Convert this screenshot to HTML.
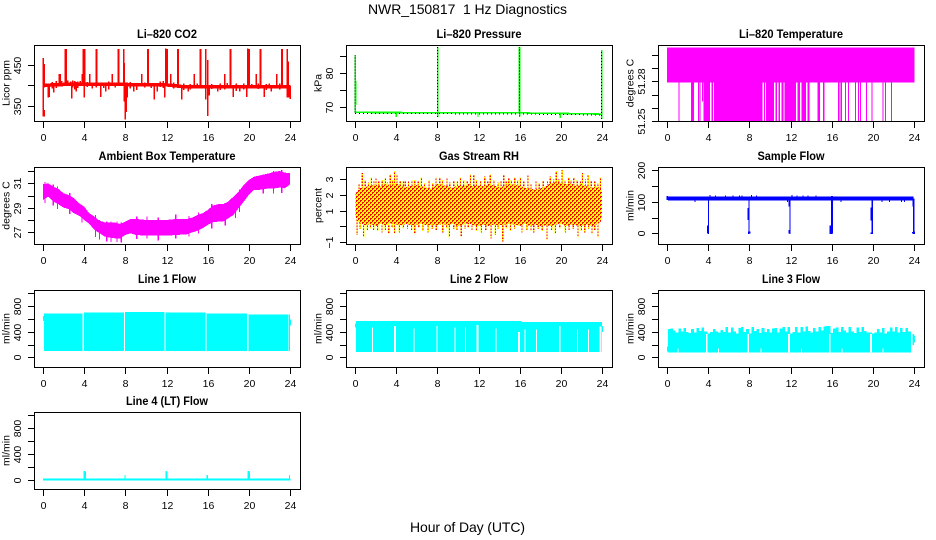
<!DOCTYPE html>
<html lang="en">
<head>
<meta charset="utf-8">
<title>NWR_150817 1 Hz Diagnostics</title>
<style>
html,body{margin:0;padding:0;background:#fff;}
body{width:936px;height:540px;overflow:hidden;}
svg{display:block;font-family:"Liberation Sans",Arial,sans-serif;}
</style>
</head>
<body>
<svg id="chart" width="936" height="540" viewBox="0 0 936 540" xmlns="http://www.w3.org/2000/svg">
<defs>
<pattern id="rhPattern" width="4" height="4" patternUnits="userSpaceOnUse">
<rect width="4" height="4" fill="#ffff00"/>
<rect x="0" y="0" width="2" height="2" fill="#ff0000"/>
<rect x="2" y="2" width="2" height="2" fill="#ff0000"/>
<rect x="1" y="1" width="1" height="1" fill="#ffff00"/>
<rect x="3" y="3" width="1" height="1" fill="#ffff00"/>
</pattern>
</defs>
<rect width="936" height="540" fill="#fff"/>
<text x="467.5" y="14" font-size="14" text-anchor="middle" textLength="199" xml:space="preserve" style="white-space:pre">NWR_150817  1 Hz Diagnostics</text>
<text x="467.5" y="532" font-size="14" text-anchor="middle" textLength="115">Hour of Day (UTC)</text>
</svg>
<script>
// ---- shared axis values
const hourTicks = [0, 4, 8, 12, 16, 20, 24];

// ---- Li-820 CO2
const co2BaseHours = [0, 2, 8, 12, 13.5, 16, 20, 24];
const co2BaseValues = [400, 402, 402, 401, 397, 396, 397, 397];
const co2SpikeHours = [0.02, 0.1, 0.1, 0.5, 0.6, 1.05, 1.6, 1.68, 1.8, 2.15, 2.25, 2.4, 2.7, 2.79, 3.25, 3.6, 3.8, 3.92, 4.0, 4.08, 4.55, 5.15, 5.2, 5.6, 6.1, 6.75, 7.29, 7.34, 7.84, 7.9, 7.97, 8.07, 8.2, 8.8, 9.6, 10.17, 10.22, 10.8, 11.1, 11.85, 11.92, 12.08, 12.4, 13.09, 13.14, 13.5, 14.1, 14.7, 15.26, 15.31, 15.81, 16.03, 16.15, 17, 17.65, 18.17, 18.22, 18.5, 19.1, 19.8, 19.89, 20.05, 20.7, 21.09, 21.14, 21.5, 22.2, 22.7, 23.19, 23.24, 23.74, 23.82, 23.9, 24];
const co2SpikeLow = [324, 324, 395, 370, 372, 383, 400, 400, 400, 400, 400, 400, 400, 368, 385, 400, 400, 400, 370, 402, 400, 395, 400, 372, 385, 400, 400, 400, 400, 360, 317, 335, 370, 385, 400, 400, 400, 365, 385, 370, 400, 400, 400, 400, 400, 365, 385, 400, 400, 400, 365, 325, 375, 385, 390, 400, 400, 372, 385, 372, 400, 400, 400, 400, 400, 372, 385, 400, 400, 400, 370, 400, 370, 366];
const co2SpikeHigh = [466, 340, 452, 400, 400, 400, 428, 428, 410, 488, 488, 412, 409, 400, 408, 410, 427, 488, 400, 488, 428, 488, 488, 402, 405, 428, 488, 488, 488, 455, 400, 400, 400, 400, 428, 488, 488, 400, 400, 400, 490, 488, 428, 488, 488, 400, 400, 428, 488, 488, 488, 462, 400, 400, 428, 488, 488, 395, 400, 400, 490, 488, 428, 488, 488, 396, 400, 428, 488, 488, 488, 458, 400, 400];
const co2MinorHours = [0.9, 1.3, 2.9, 3.1, 3.4, 4.3, 4.8, 5.9, 6.4, 7.0, 8.5, 9.1, 9.9, 10.5, 11.4, 11.7, 12.7, 13.7, 14.3, 15.0, 16.4, 17.2, 17.9, 18.8, 19.5, 20.3, 20.9, 21.7, 22.0, 23.0];
const co2MinorLow = [392, 394, 395, 390, 393, 396, 392, 394, 390, 395, 392, 388, 395, 393, 396, 394, 392, 388, 390, 393, 391, 388, 392, 386, 390, 393, 391, 388, 392, 390];
const co2MinorHigh = [408, 410, 412, 411, 409, 408, 407, 406, 409, 406, 408, 405, 407, 406, 409, 410, 407, 404, 403, 404, 403, 404, 406, 404, 405, 403, 404, 403, 404, 405];
const co2TickValues = [350, 400, 450];
const co2TickLabels = ['350', '', '450'];

// ---- Li-820 Pressure
const pressBaseHours = [0, 5, 10, 16, 18.2, 20, 24];
const pressBaseValues = [68.5, 68.45, 68.4, 68.4, 68.2, 68.2, 68.0];
const pressSpikeHours = [0.02, 8.03, 16, 23.97];
const pressSpikeLow = [68.5, 67.1, 67.3, 66.5];
const pressSpikeHigh = [85.4, 87.7, 87.7, 86.9];
const pressThickHours = [0.06, 16];
const pressThickLow = [70.7, 68.5];
const pressThickHigh = [77.7, 87.7];
const pressDipHours = [4.02, 11.95, 19.95];
const pressDipLow = [67.1, 67.1, 66.8];
const pressTickValues = [70, 75, 80, 85];
const pressTickLabels = ['70', '', '80', ''];

// ---- Li-820 Temperature
const tempBandStart = [0];
const tempBandEnd = [24.06];
const tempBandLow = [51.2792];
const tempBandHigh = [51.3055];
const tempDropStart = [1.10, 2.33, 3.01, 3.17, 3.53, 4.31, 4.57, 9.43, 9.62, 10.53, 10.82, 11.11, 11.40, 12.67, 13.05, 13.64, 14.61, 15.16, 16.62, 16.88, 17.30, 17.59, 18.27, 18.56, 18.76, 19.34, 19.89, 20.93, 21.19, 21.77];
const tempDropEnd = [1.17, 2.62, 3.11, 3.21, 4.18, 4.47, 9.30, 9.52, 10.40, 10.69, 10.98, 11.31, 12.54, 12.93, 13.51, 13.83, 14.87, 15.32, 16.75, 17.01, 17.36, 17.65, 18.37, 18.66, 18.82, 19.44, 19.99, 21.06, 21.28, 21.83];
const tempPartialHours = [3.43];
const tempPartialLow = [51.2650];
const tempFloor = [51.2502];
const tempTickValues = [51.25, 51.26, 51.27, 51.28, 51.29, 51.30];
const tempTickLabels = ['51.25', '', '', '51.28', '', ''];

// ---- Ambient Box Temperature
const ambHours = [0, .5, 1, 1.5, 2, 2.5, 3, 3.5, 4, 4.5, 5, 5.5, 6, 6.5, 7, 7.5, 8, 8.5, 9, 10, 11, 12, 13, 14, 14.5, 15, 15.5, 16, 16.5, 17, 17.5, 18, 18.5, 19, 19.5, 20, 20.5, 21, 22, 22.5, 23, 23.5, 24];
const ambHigh = [30.92, 31.0, 30.73, 30.54, 30.18, 30.05, 29.78, 29.37, 29.10, 28.55, 28.28, 27.93, 27.82, 27.79, 27.79, 27.68, 27.87, 28.09, 28.09, 28.01, 28.01, 28.01, 28.09, 28.09, 28.20, 28.41, 28.55, 28.82, 29.18, 29.29, 29.29, 29.5, 29.91, 30.32, 30.86, 31.27, 31.54, 31.63, 31.82, 31.95, 32.0, 31.87, 31.82];
const ambLow = [29.64, 29.91, 29.50, 29.29, 29.01, 28.90, 28.55, 28.36, 28.01, 27.68, 27.19, 26.92, 26.65, 26.56, 26.51, 26.51, 26.78, 26.92, 26.78, 26.73, 26.73, 26.73, 26.78, 26.84, 27.0, 27.11, 27.33, 27.6, 27.82, 27.87, 27.87, 28.14, 28.41, 28.96, 29.5, 30.05, 30.46, 30.46, 30.59, 30.59, 30.65, 30.59, 30.92];
const ambWhiskerHours = [0.2, 1.0, 1.4, 2.6, 3.8, 5.1, 5.5, 6.2, 6.6, 7.2, 7.6, 9.1, 10.1, 11.2, 12.9, 14.2, 15.1, 16.4, 17.7, 18.7, 19.1, 21.4, 22.4, 23.2];
const ambWhiskerLow = [29.4, 29.2, 28.9, 28.5, 27.8, 26.6, 26.4, 26.25, 26.2, 26.2, 26.15, 26.45, 26.5, 26.35, 26.5, 26.65, 26.9, 27.3, 27.55, 28.15, 28.65, 30.15, 30.15, 30.2];
const ambWhiskerHigh = [31.1, 30.9, 30.75, 30.2, 29.2, 28.4, 28.0, 27.9, 27.9, 27.9, 27.8, 28.3, 28.3, 28.2, 28.45, 28.35, 28.6, 29.3, 29.4, 30.0, 30.5, 31.7, 32.0, 32.1];
const ambTickValues = [27, 28, 29, 30, 31, 32];
const ambTickLabels = ['27', '', '29', '', '31', ''];

// ---- Gas Stream RH
const rhHours = [0.05, 0.3, 0.5, 1, 1.5, 2, 2.5, 3, 3.5, 4, 4.5, 5, 5.5, 6, 6.5, 7, 7.5, 8, 8.5, 9, 9.5, 10, 10.5, 11, 11.5, 12, 12.5, 13, 13.5, 14, 14.5, 15, 15.5, 16, 16.5, 17, 17.5, 18, 18.5, 19, 19.5, 20, 20.5, 21, 21.5, 22, 22.5, 23, 23.5, 23.9, 24.02];
const rhTop = [2.1, 2.3, 2.45, 2.5, 2.6, 2.65, 2.55, 2.7, 2.6, 2.75, 2.55, 2.5, 2.6, 2.65, 2.55, 2.45, 2.4, 2.7, 2.65, 2.55, 2.45, 2.6, 2.55, 2.7, 2.55, 2.6, 2.55, 2.7, 2.6, 2.5, 2.55, 2.7, 2.65, 2.6, 2.45, 2.4, 2.35, 2.4, 2.55, 2.75, 2.8, 2.75, 2.7, 2.75, 2.55, 2.7, 2.55, 2.45, 2.55, 2.4, 2.1];
const rhBottom = [0.6, 0.3, 0.2, 0.05, 0.15, 0.0, 0.15, 0.05, 0.2, 0.1, 0.05, 0.15, 0.05, 0.1, 0.15, 0.05, 0.1, 0.05, 0.15, 0.05, 0.15, 0.0, 0.1, 0.2, 0.05, 0.0, 0.1, 0.0, 0.1, 0.05, 0.1, 0.15, 0.1, 0.0, 0.15, 0.0, 0.1, 0.0, 0.05, 0.0, 0.1, 0.15, 0.0, 0.1, 0.05, 0.0, 0.1, 0.0, 0.1, 0.3, 0.8];
const rhUpHours = [0.7, 1.59, 2.04, 2.95, 3.43, 3.85, 4.08, 4.89, 5.54, 6.45, 7.87, 8.23, 8.94, 10.24, 11.21, 11.53, 12.6, 13.15, 14.45, 14.93, 15.52, 16.07, 16.8, 17.59, 18.98, 19.56, 20.12, 20.76, 21.25, 22.1, 22.65, 23.84, 0.4, 1.0, 1.3, 1.85, 2.3, 2.65, 3.15, 3.65, 4.4, 4.7, 5.2, 5.8, 6.15, 6.75, 7.2, 7.55, 8.5, 9.2, 9.6, 9.95, 10.55, 10.9, 11.8, 12.2, 12.9, 13.5, 13.9, 14.2, 14.7, 15.2, 15.8, 16.4, 17.1, 17.9, 18.3, 18.7, 19.3, 19.8, 20.4, 21.0, 21.6, 21.9, 22.4, 22.95, 23.3, 23.6];
const rhUpValues = [3.39, 3.13, 3.06, 3.06, 3.32, 3.53, 3.32, 2.85, 2.96, 3.11, 3.13, 3.11, 3.06, 3.11, 3.32, 3.28, 3.17, 3.32, 3.28, 3.06, 3.11, 3.11, 3.24, 2.85, 3.17, 3.53, 3.6, 3.13, 3.13, 3.39, 3.28, 3.13, 2.7, 2.95, 2.8, 2.9, 2.85, 2.95, 2.8, 2.95, 2.9, 2.85, 2.85, 2.95, 2.85, 2.75, 2.95, 2.75, 2.95, 2.8, 2.9, 2.85, 2.95, 2.85, 2.95, 2.9, 2.85, 2.95, 2.8, 2.9, 2.85, 2.95, 2.95, 2.85, 2.7, 2.75, 2.9, 2.85, 3.0, 3.0, 2.95, 2.95, 2.95, 2.85, 3.0, 2.9, 2.85, 2.75];
const rhDownHours = [0.2, 0.84, 1.81, 2.62, 3.27, 3.85, 4.31, 5.8, 7.1, 8.52, 9.17, 10.33, 11.37, 12.28, 13.22, 13.64, 14.35, 16.23, 17.36, 18.66, 19.47, 20.44, 21.67, 22.32, 23.03, 23.61, 0.5, 1.2, 1.5, 2.2, 2.95, 3.6, 4.7, 5.1, 5.5, 6.2, 6.6, 7.5, 7.9, 8.9, 9.6, 9.9, 10.7, 11.0, 11.8, 12.7, 13.9, 14.7, 15.1, 15.5, 16.7, 17.1, 17.8, 18.2, 19.1, 19.9, 20.8, 21.2, 22.0, 22.7, 23.3];
const rhDownValues = [-0.57, -0.74, -0.25, -0.40, -0.47, -0.47, -0.40, -0.47, -0.40, -0.40, -0.74, -0.68, -0.25, -0.40, -0.79, -0.57, -1.0, -0.40, -0.40, -0.89, -0.47, -0.40, -0.74, -0.40, -0.5, -0.74, -0.2, -0.25, -0.15, -0.3, -0.25, -0.1, -0.15, -0.2, -0.25, -0.1, -0.3, -0.2, -0.25, -0.15, -0.2, -0.25, -0.2, -0.1, -0.3, -0.25, -0.2, -0.15, -0.3, -0.2, -0.25, -0.3, -0.2, -0.3, -0.25, -0.15, -0.25, -0.2, -0.3, -0.2, -0.25];
const rhTickValues = [-1, 0, 1, 2, 3];
const rhTickLabels = ['\u22121', '', '1', '2', '3'];

// ---- Sample Flow
const flowBandStart = [0.1];
const flowBandEnd = [23.95];
const flowBandLow = [104];
const flowBandHigh = [117];
const flowDropHours = [4.02, 7.97, 11.95, 16.0, 19.95, 23.97];
const flowDropLow = [-3, -3, -3, -3, -3, -3];
const flowDropHigh = [110, 110, 110, 110, 110, 110];
const flowThickHours = [0.03, 3.98, 7.9, 7.95, 8.02, 11.88, 11.9, 15.9, 16.03, 19.85, 19.88, 23.92, 23.9, 24.02];
const flowThickLow = [106, 0, 42, -2, -1, 0, 85, -2, 0, 40, -2, 85, 0, -2];
const flowThickHigh = [119, 25, 80, 5, 5, 10, 106, 25, 118, 82, 3, 110, 4, 6];
const flowSpikeHours = [2.7, 4.2, 4.7, 5.7, 6.4, 7.05, 7.3, 8.2, 8.7, 11.7, 12.15, 12.65, 13.2, 13.7, 14.5, 16.9, 20.9, 21.6, 22.8, 23.1];
const flowSpikeLow = [99, 106, 106, 106, 106, 106, 106, 106, 106, 99, 106, 106, 106, 106, 106, 99, 99, 99, 99, 99];
const flowSpikeHigh = [106, 121, 120, 120, 120, 120, 120, 121, 120, 106, 121, 120, 120, 120, 120, 106, 106, 106, 106, 106];
const flowTickValues = [0, 50, 100, 150, 200];
const flowTickLabels = ['0', '', '100', '', '200'];

// ---- Line flows
const lineTickValues = [0, 200, 400, 600, 800, 1000];
const lineTickLabels = ['0', '', '400', '', '800', ''];

const line1Start = [0.1, 3.98, 7.97, 11.92, 15.9, 19.95, 23.87];
const line1End = [3.82, 7.87, 11.82, 15.81, 19.83, 23.8, 23.98];
const line1Top = [687, 698, 708, 703, 682, 672, 672];
const line1Bottom = [99, 99, 99, 99, 99, 99, 99];
const line1EdgeStart = [0, 23.98];
const line1EdgeEnd = [0.1, 24.1];
const line1EdgeLow = [568, 495];
const line1EdgeHigh = [646, 594];

const line2Start = [0.1, 16.2];
const line2End = [16.2, 23.98];
const line2Top = [568, 552];
const line2Bottom = [83, 83];
const line2GapStart = [1.65, 3.79, 5.67, 7.90, 9.65, 10.69, 11.82, 13.64, 15.84, 16.49, 17.59, 19.83, 21.57, 22.64, 23.78];
const line2GapEnd = [1.75, 3.98, 5.73, 8.03, 9.72, 10.79, 12.02, 13.70, 16.04, 16.59, 17.69, 19.99, 21.67, 22.74, 23.94];
const line2GapTop = [469, 490, 453, 490, 469, 469, 505, 453, 396, 437, 437, 490, 437, 437, 479];
const line2EdgeStart = [0, 23.94];
const line2EdgeEnd = [0.1, 24.1];
const line2EdgeLow = [463, 396];
const line2EdgeHigh = [531, 490];

const line3TopHours = [0.1, 0.35, 0.6, 0.85, 1.1, 1.35, 1.6, 1.85, 2.1, 2.35, 2.6, 2.85, 3.1, 3.35, 3.6, 3.95, 4.2, 4.45, 4.7, 4.95, 5.2, 5.45, 5.7, 5.95, 6.2, 6.45, 6.7, 6.95, 7.2, 7.45, 7.7, 7.97, 8.2, 8.45, 8.7, 8.95, 9.2, 9.45, 9.7, 9.95, 10.2, 10.45, 10.7, 10.95, 11.2, 11.45, 11.7, 11.95, 12.2, 12.45, 12.7, 12.95, 13.2, 13.45, 13.7, 13.95, 14.2, 14.45, 14.7, 14.95, 15.2, 15.45, 15.9, 16.15, 16.4, 16.65, 16.9, 17.15, 17.4, 17.65, 17.9, 18.15, 18.4, 18.65, 18.9, 19.15, 19.4, 19.92, 20.15, 20.4, 20.65, 20.9, 21.15, 21.4, 21.65, 21.9, 22.15, 22.4, 22.65, 22.9, 23.15, 23.4, 23.71];
const line3TopValues = [440, 452, 420, 385, 452, 405, 458, 395, 380, 440, 385, 458, 410, 462, 400, 370, 395, 445, 400, 385, 430, 395, 472, 390, 465, 400, 375, 455, 470, 395, 445, 375, 470, 410, 445, 380, 455, 395, 445, 385, 450, 460, 390, 450, 470, 400, 470, 375, 395, 475, 390, 470, 400, 478, 410, 385, 460, 400, 470, 415, 485, 490, 380, 450, 465, 395, 475, 415, 385, 470, 400, 380, 465, 395, 470, 410, 390, 375, 385, 445, 390, 455, 375, 400, 465, 405, 470, 385, 455, 395, 460, 405, 380];
const line3Bottom = [73];
const line3GapStart = [1.0, 3.79, 4.95, 7.84, 9.1, 11.76, 13.0, 15.74, 16.94, 19.73, 20.92];
const line3GapEnd = [1.05, 3.95, 5.0, 7.97, 9.17, 11.95, 13.05, 15.90, 17.0, 19.92, 20.98];
const line3GapTop = [140, 365, 140, 365, 140, 365, 140, 365, 140, 365, 140];
const line3EdgeStart = [0, 23.87, 24.0];
const line3EdgeEnd = [0.1, 24.0, 24.08];
const line3EdgeLow = [88, 193, 230];
const line3EdgeHigh = [166, 365, 340];

const line4BaseStart = [0];
const line4BaseEnd = [24.05];
const line4BaseLow = [-5];
const line4BaseHigh = [26];
const line4SpikeHours = [4.0, 4.1, 7.97, 11.95, 12.05, 15.95, 19.95, 20.05, 23.95];
const line4SpikeHigh = [143, 135, 82, 143, 135, 82, 143, 135, 82];

// ---- rendering helpers
const NS = 'http://www.w3.org/2000/svg';
const root = document.getElementById('chart');
const hourToX = (left) => (h) => left + 9 + h * (247 / 24);

function node(parent, tag, name, attrs) {
  const e = document.createElementNS(NS, tag);
  
  
  for (const k in attrs) e.setAttribute(k, attrs[k]);
  parent.appendChild(e);
  return e;
}

function linear(v0, p0, v1, p1) {
  return (v) => p0 + (v - v0) * (p1 - p0) / (v1 - v0);
}

function makePanel(key, left, top, bottom, title, titleWidth, yTitle, ticks, labels, yScale) {
  const g = node(root, 'g', key + '-panel', {});
  const right = left + 266;
  const x = hourToX(left);
  const marks = node(g, 'g', key + '-series', {'shape-rendering': 'crispEdges'});
  const axes = node(g, 'g', key + '-axes', {'shape-rendering': 'crispEdges', stroke: '#000', 'stroke-width': 1, fill: 'none'});
  node(axes, 'rect', key + '-plot-box', {x: left + .5, y: top + .5, width: right - left, height: bottom - top});
  hourTicks.forEach((h) => {
    const px = Math.round(x(h)) + .5;
    node(axes, 'line', key + '-x-tick', {x1: px, x2: px, y1: bottom + .5, y2: bottom + 7});
    const t = node(g, 'text', key + '-x-tick-label', {x: px, y: bottom + 20, 'font-size': 10.5, 'text-anchor': 'middle'});
    t.textContent = h;
  });
  ticks.forEach((v, i) => {
    const py = Math.round(yScale(v)) + .5;
    node(axes, 'line', key + '-y-tick', {x1: left - 6, x2: left + .5, y1: py, y2: py});
    if (labels[i]) {
      const t = node(g, 'text', key + '-y-tick-label', {transform: 'translate(' + (left - 13) + ',' + py + ') rotate(-90)', 'font-size': 10.5, 'text-anchor': 'middle'});
      t.textContent = labels[i];
    }
  });
  const tt = node(g, 'text', key + '-title', {x: left + 133, y: top - 7, 'font-size': 11.5, 'font-weight': 'bold', 'text-anchor': 'middle', textLength: titleWidth, lengthAdjust: 'spacingAndGlyphs'});
  tt.textContent = title;
  const yt = node(g, 'text', key + '-y-axis-title', {transform: 'translate(' + (left - 24.5) + ',' + ((top + bottom) / 2) + ') rotate(-90)', 'font-size': 10.5, 'text-anchor': 'middle'});
  yt.textContent = yTitle;
  return {marks, x, y: yScale, key};
}

function bar(p, name, h0, h1, lo, hi, color, minW) {
  const x0 = p.x(h0), x1 = p.x(h1);
  const w = Math.max(x1 - x0, minW || 1);
  const y0 = p.y(hi), y1 = p.y(lo);
  return node(p.marks, 'rect', name, {x: x0, y: y0, width: w, height: Math.max(y1 - y0, 1), fill: color});
}

function spike(p, name, h, lo, hi, color, w) {
  const pw = w || 1.2;
  return bar(p, name, h - pw / 20.6, h + pw / 20.6, lo, hi, color, pw);
}

function polyline(p, name, hours, values, color, width, dash) {
  const pts = hours.map((h, i) => p.x(h) + ',' + p.y(values[i])).join(' ');
  const attrs = {points: pts, fill: 'none', stroke: color, 'stroke-width': width};
  if (dash) attrs['stroke-dasharray'] = dash;
  return node(p.marks, 'polyline', name, attrs);
}

function envelope(p, name, hours, hi, lo, fill) {
  const up = hours.map((h, i) => p.x(h) + ',' + p.y(hi[i]));
  const down = hours.map((h, i) => p.x(h) + ',' + p.y(lo[i])).reverse();
  return node(p.marks, 'polygon', name, {points: up.concat(down).join(' '), fill: fill});
}

// ---- Li-820 CO2
const co2 = makePanel('co2', 34, 45, 121, 'Li\u2013820 CO2', 60, 'Licor ppm', co2TickValues, co2TickLabels, linear(400, 85.3, 450, 64.8));
polyline(co2, 'co2-baseline', co2BaseHours, co2BaseValues, '#ff0000', 3.5);
co2SpikeHours.forEach((h, i) => spike(co2, 'co2-spike', h, co2SpikeLow[i], co2SpikeHigh[i], '#ff0000', 1.5));
co2MinorHours.forEach((h, i) => spike(co2, 'co2-minor-spike', h, co2MinorLow[i], co2MinorHigh[i], '#ff0000', 1.5));

// ---- Li-820 Pressure
const press = makePanel('pressure', 346, 45, 121, 'Li\u2013820 Pressure', 85, 'kPa', pressTickValues, pressTickLabels, linear(70, 107.3, 80, 73.3));
polyline(press, 'pressure-baseline', pressBaseHours, pressBaseValues, '#00ff00', 1.6);
polyline(press, 'pressure-baseline-dots', pressBaseHours, pressBaseValues.map((v) => v - 0.3), '#000000', 1, '1 3');
pressThickHours.forEach((h, i) => spike(press, 'pressure-thick-spike', h, pressThickLow[i], pressThickHigh[i], '#00ff00', 2));
pressSpikeHours.forEach((h, i) => {
  spike(press, 'pressure-spike-green', h, pressSpikeLow[i], pressSpikeHigh[i], '#00ff00', 1.4);
  polyline(press, 'pressure-spike-dots', [h, h], [pressSpikeLow[i], pressSpikeHigh[i]], '#000000', 1, '1 2');
});
pressDipHours.forEach((h, i) => spike(press, 'pressure-dip', h, pressDipLow[i], pressBaseValues[0], '#00ff00', 1.4));

// ---- Li-820 Temperature
const temp = makePanel('temperature', 658, 45, 121, 'Li\u2013820 Temperature', 104, 'degrees C', tempTickValues, tempTickLabels, linear(51.25, 121.3, 51.28, 81.3));
tempBandStart.forEach((h, i) => bar(temp, 'temperature-band', h, tempBandEnd[i], tempBandLow[i], tempBandHigh[i], '#ff00ff'));
tempDropStart.forEach((h, i) => bar(temp, 'temperature-drop', h, tempDropEnd[i], tempFloor[0], tempBandLow[0], '#ff00ff'));
tempPartialHours.forEach((h, i) => spike(temp, 'temperature-partial-drop', h, tempPartialLow[i], tempBandLow[0], '#ff00ff', 1));

// ---- Ambient Box Temperature
const amb = makePanel('ambient', 34, 167, 244, 'Ambient Box Temperature', 137, 'degrees C', ambTickValues, ambTickLabels, linear(31, 183.3, 27, 232.3));
envelope(amb, 'ambient-band', ambHours, ambHigh, ambLow, '#ff00ff');
ambWhiskerHours.forEach((h, i) => spike(amb, 'ambient-whisker', h, ambWhiskerLow[i], ambWhiskerHigh[i], '#ff00ff', 1.2));

// ---- Gas Stream RH
const rh = makePanel('rh', 346, 167, 244, 'Gas Stream RH', 80, 'percent', rhTickValues, rhTickLabels, linear(3, 179.3, -1, 241.7));
rhUpHours.forEach((h, i) => {
  spike(rh, 'rh-up-spike', h, 2, rhUpValues[i], '#ffff00', 1.4);
  polyline(rh, 'rh-up-spike-dots', [h, h], [2, rhUpValues[i]], '#ff0000', 1.2, '1.5 1.5');
});
rhDownHours.forEach((h, i) => {
  spike(rh, 'rh-down-spike', h, rhDownValues[i], 1, '#ffff00', 1.4);
  polyline(rh, 'rh-down-spike-dots', [h, h], [1, rhDownValues[i]], '#ff0000', 1.2, '1.5 1.5');
});
envelope(rh, 'rh-band', rhHours, rhTop, rhBottom, 'url(#rhPattern)');

// ---- Sample Flow
const flow = makePanel('sample-flow', 658, 167, 244, 'Sample Flow', 67, 'ml/min', flowTickValues, flowTickLabels, linear(0, 233.3, 200, 170.3));
flowBandStart.forEach((h, i) => bar(flow, 'sample-flow-band', h, flowBandEnd[i], flowBandLow[i], flowBandHigh[i], '#0000ff'));
flowDropHours.forEach((h, i) => spike(flow, 'sample-flow-drop', h, flowDropLow[i], flowDropHigh[i], '#0000ff', 1.2));
flowThickHours.forEach((h, i) => spike(flow, 'sample-flow-thick', h, flowThickLow[i], flowThickHigh[i], '#0000ff', 1.8));
flowSpikeHours.forEach((h, i) => spike(flow, 'sample-flow-spike', h, flowSpikeLow[i], flowSpikeHigh[i], '#0000ff', 1));

// ---- Line 1 Flow
const line1 = makePanel('line-1', 34, 290, 367, 'Line 1 Flow', 58, 'ml/min', lineTickValues, lineTickLabels, linear(0, 357.3, 1000, 293.3));
line1Start.forEach((h, i) => bar(line1, 'line-1-block', h, line1End[i], line1Bottom[i], line1Top[i], '#00ffff'));
line1EdgeStart.forEach((h, i) => bar(line1, 'line-1-edge', h, line1EdgeEnd[i], line1EdgeLow[i], line1EdgeHigh[i], '#00ffff'));

// ---- Line 2 Flow
const line2 = makePanel('line-2', 346, 290, 367, 'Line 2 Flow', 58, 'ml/min', lineTickValues, lineTickLabels, linear(0, 357.3, 1000, 293.3));
line2Start.forEach((h, i) => bar(line2, 'line-2-block', h, line2End[i], line2Bottom[i], line2Top[i], '#00ffff'));
line2GapStart.forEach((h, i) => bar(line2, 'line-2-gap', h, line2GapEnd[i], line2Bottom[0] - 2, line2GapTop[i], '#ffffff'));
line2EdgeStart.forEach((h, i) => bar(line2, 'line-2-edge', h, line2EdgeEnd[i], line2EdgeLow[i], line2EdgeHigh[i], '#00ffff'));

// ---- Line 3 Flow
const line3 = makePanel('line-3', 658, 290, 367, 'Line 3 Flow', 58, 'ml/min', lineTickValues, lineTickLabels, linear(0, 357.3, 1000, 293.3));
line3TopHours.forEach((h, i) => {
  if (i + 1 < line3TopHours.length) bar(line3, 'line-3-column', h, line3TopHours[i + 1], line3Bottom[0], line3TopValues[i], '#00ffff');
});
line3GapStart.forEach((h, i) => bar(line3, 'line-3-gap', h, line3GapEnd[i], line3Bottom[0] - 2, line3GapTop[i], '#ffffff'));
line3EdgeStart.forEach((h, i) => bar(line3, 'line-3-edge', h, line3EdgeEnd[i], line3EdgeLow[i], line3EdgeHigh[i], '#00ffff'));

// ---- Line 4 (LT) Flow
const line4 = makePanel('line-4', 34, 412, 489, 'Line 4 (LT) Flow', 82, 'ml/min', lineTickValues, lineTickLabels, linear(0, 480.3, 1000, 415.3));
line4BaseStart.forEach((h, i) => bar(line4, 'line-4-baseline', h, line4BaseEnd[i], line4BaseLow[i], line4BaseHigh[i], '#00ffff'));
line4SpikeHours.forEach((h, i) => spike(line4, 'line-4-spike', h, 0, line4SpikeHigh[i], '#00ffff', 1.2));
</script>
</body>
</html>
